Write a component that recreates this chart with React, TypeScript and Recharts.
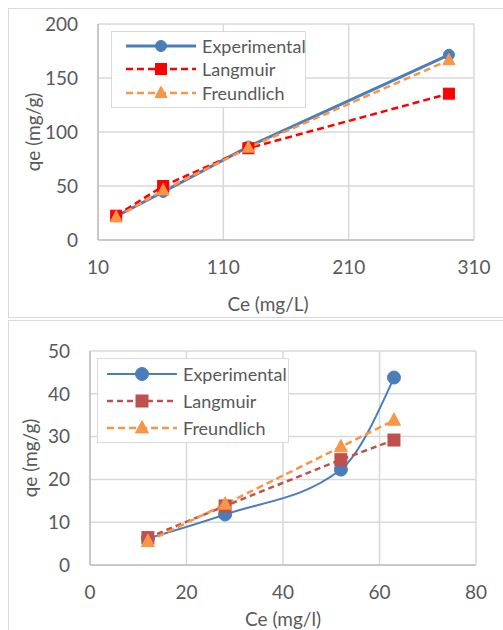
import React from "react";
import {
  LineChart,
  Line,
  XAxis,
  YAxis,
  CartesianGrid,
  Legend,
  Label,
} from "recharts";

// upper plot: Ce (mg/L) against qe (mg/g)
const ceTop = [24.5, 62, 130, 290];
const expTop = [22, 44.5, 86.5, 171.5];
const langTop = [22.5, 50, 85, 135.5];
const freuTop = [21, 46, 85.5, 166.5];
const xTicksTop = [10, 110, 210, 310];
const yTicksTop = [0, 50, 100, 150, 200];

// lower plot: Ce (mg/l) against qe (mg/g)
const ceBot = [12, 28, 52, 63];
const expBot = [6.2, 11.8, 22.3, 43.8];
const langBot = [6.4, 13.8, 24.6, 29.2];
const freuBot = [5.5, 14.2, 27.6, 33.8];
const xTicksBot = [0, 20, 40, 60, 80];
const yTicksBot = [0, 10, 20, 30, 40, 50];

const FONT = "Lato, 'Open Sans', sans-serif";
const TEXT = "#595959";
const GRID = "#d9d9d9";
const AXIS = "#bfbfbf";
const BLUE = "#4a7ebb";
const ORANGE = "#f79646";

type Row = { ce: number; qe: number };
const rows = (xs: number[], ys: number[]): Row[] =>
  xs.map((ce, i) => ({ ce, qe: ys[i] }));

type MarkerKind = "circle" | "square" | "triangle";

function Marker({
  kind,
  cx,
  cy,
  size,
  color,
}: {
  kind: MarkerKind;
  cx: number;
  cy: number;
  size: number;
  color: string;
}) {
  if (kind === "circle") {
    return <circle cx={cx} cy={cy} r={size / 2} fill={color} stroke={color} />;
  }
  if (kind === "square") {
    return (
      <rect
        x={cx - size / 2}
        y={cy - size / 2}
        width={size}
        height={size}
        fill={color}
        stroke={color}
        strokeWidth={1}
      />
    );
  }
  const h = size * 0.95;
  return (
    <polygon
      points={`${cx},${cy - h * 0.6} ${cx - size / 2},${cy + h * 0.4} ${cx + size / 2},${cy + h * 0.4}`}
      fill={color}
      stroke={color}
      strokeWidth={1}
    />
  );
}

const dotOf = (kind: MarkerKind, size: number, color: string) => (p: any) =>
  (
    <Marker
      key={`m-${p.index}`}
      kind={kind}
      cx={p.cx}
      cy={p.cy}
      size={size}
      color={color}
    />
  );

type Series = {
  name: string;
  data: Row[];
  color: string;
  width: number;
  dash?: string;
  marker: MarkerKind;
  size: number;
  curve?: "linear" | "monotone";
};

function LegendBox({
  items,
  rowH,
  padX,
  padY,
  boxW,
}: {
  items: Series[];
  rowH: number;
  padX: number;
  padY: number;
  boxW: number;
}) {
  return (
    <div
      style={{
        border: `1.5px solid ${GRID}`,
        background: "#fff",
        width: boxW,
        padding: `${padY}px 0`,
        boxSizing: "border-box",
      }}
    >
      {items.map((s) => (
        <div
          key={s.name}
          style={{
            display: "flex",
            alignItems: "center",
            height: rowH,
            whiteSpace: "nowrap",
          }}
        >
          <svg
            width={70}
            height={20}
            style={{ marginLeft: padX, flexShrink: 0 }}
          >
            <line
              x1={0}
              y1={10}
              x2={70}
              y2={10}
              stroke={s.color}
              strokeWidth={s.width}
              strokeDasharray={s.dash}
            />
            <Marker kind={s.marker} cx={35} cy={10} size={s.size} color={s.color} />
          </svg>
          <span
            style={{
              marginLeft: 6,
              fontFamily: FONT,
              fontSize: 18,
              color: TEXT,
              lineHeight: 1,
            }}
          >
            {s.name}
          </span>
        </div>
      ))}
    </div>
  );
}

const topSeries: Series[] = [
  { name: "Experimental", data: rows(ceTop, expTop), color: BLUE, width: 3, marker: "circle", size: 11 },
  { name: "Langmuir", data: rows(ceTop, langTop), color: "#ff0000", width: 2.5, dash: "7 4", marker: "square", size: 11 },
  { name: "Freundlich", data: rows(ceTop, freuTop), color: ORANGE, width: 2.5, dash: "7 4", marker: "triangle", size: 12 },
];

const botSeries: Series[] = [
  { name: "Experimental", data: rows(ceBot, expBot), color: BLUE, width: 2, marker: "circle", size: 13, curve: "monotone" },
  { name: "Langmuir", data: rows(ceBot, langBot), color: "#c0504d", width: 2.5, dash: "6 4", marker: "square", size: 12 },
  { name: "Freundlich", data: rows(ceBot, freuBot), color: ORANGE, width: 2.5, dash: "7 4", marker: "triangle", size: 13 },
];

const tickStyle = { fill: TEXT, fontSize: 19, fontFamily: FONT };

type PanelProps = {
  series: Series[];
  height: number;
  margin: { top: number; right: number; bottom: number; left: number };
  xDomain: [number, number];
  xTicks: number[];
  yDomain: [number, number];
  yTicks: number[];
  xAxisH: number;
  xTitle: string;
  xTitleShift: number;
  xTitleDy: number;
  yTitleDx: number;
  legendPos: { left: number; top: number; width: number };
  legendRow: { rowH: number; padX: number; padY: number };
};

function Panel(p: PanelProps) {
  return (
    <div
      style={{
        border: `1px solid ${GRID}`,
        width: 500,
        height: p.height,
        background: "#fff",
      }}
    >
      <LineChart width={500} height={p.height} margin={p.margin}>
        <CartesianGrid stroke={GRID} strokeWidth={1.5} />
        <XAxis
          dataKey="ce"
          type="number"
          domain={p.xDomain}
          ticks={p.xTicks}
          allowDataOverflow
          height={p.xAxisH}
          stroke={AXIS}
          strokeWidth={1.5}
          tickLine={false}
          tickSize={0}
          tickMargin={21}
          tick={tickStyle}
        >
          <Label
            content={({ viewBox }: any) => (
              <text
                x={viewBox.x + viewBox.width / 2 + p.xTitleShift}
                y={viewBox.y + p.xTitleDy}
                textAnchor="middle"
                dominantBaseline="central"
                fill={TEXT}
                fontSize={19}
                fontFamily={FONT}
              >
                {p.xTitle}
              </text>
            )}
          />
        </XAxis>
        <YAxis
          dataKey="qe"
          type="number"
          domain={p.yDomain}
          ticks={p.yTicks}
          width={70}
          stroke={AXIS}
          strokeWidth={1.5}
          tickLine={false}
          tickSize={0}
          tickMargin={20}
          tick={tickStyle}
        >
          <Label
            content={({ viewBox }: any) => {
              const x = viewBox.x + p.yTitleDx;
              const y = viewBox.y + viewBox.height / 2;
              return (
                <text
                  x={x}
                  y={y}
                  transform={`rotate(-90 ${x} ${y})`}
                  textAnchor="middle"
                  dominantBaseline="central"
                  fill={TEXT}
                  fontSize={19}
                  fontFamily={FONT}
                >
                  qe (mg/g)
                </text>
              );
            }}
          />
        </YAxis>
        <Legend
          layout="vertical"
          align="center"
          verticalAlign="middle"
          wrapperStyle={{
            left: p.legendPos.left,
            top: p.legendPos.top,
            width: p.legendPos.width,
          }}
          content={() => (
            <LegendBox items={p.series} boxW={p.legendPos.width} {...p.legendRow} />
          )}
        />
        {p.series.map((s) => (
          <Line
            key={s.name}
            name={s.name}
            data={s.data}
            dataKey="qe"
            type={s.curve ?? "linear"}
            stroke={s.color}
            strokeWidth={s.width}
            strokeDasharray={s.dash}
            dot={dotOf(s.marker, s.size, s.color)}
            activeDot={false}
            isAnimationActive={false}
          />
        ))}
      </LineChart>
    </div>
  );
}

export default function App() {
  return (
    <div
      style={{
        position: "fixed",
        left: 8,
        top: 8,
        width: 495,
        height: 622,
        overflow: "hidden",
        background: "#fff",
      }}
    >
      <Panel
        series={topSeries}
        height={308}
        margin={{ top: 15, right: 35, bottom: 0, left: 19 }}
        xDomain={[10, 310]}
        xTicks={xTicksTop}
        yDomain={[0, 200]}
        yTicks={yTicksTop}
        xAxisH={77}
        xTitle="Ce (mg/L)"
        xTitleShift={-18}
        xTitleDy={63}
        yTitleDx={4}
        legendPos={{ left: 102, top: 22, width: 195 }}
        legendRow={{ rowH: 23.5, padX: 14, padY: 2 }}
      />
      <div style={{ marginTop: 2 }}>
        <Panel
          series={botSeries}
          height={310}
          margin={{ top: 30, right: 33, bottom: 0, left: 11 }}
          xDomain={[0, 80]}
          xTicks={xTicksBot}
          yDomain={[0, 50]}
          yTicks={yTicksBot}
          xAxisH={66}
          xTitle="Ce (mg/l)"
          xTitleShift={0}
          xTitleDy={53}
          yTitleDx={9}
          legendPos={{ left: 88, top: 37, width: 192 }}
          legendRow={{ rowH: 27, padX: 9, padY: 1 }}
        />
      </div>
    </div>
  );
}
